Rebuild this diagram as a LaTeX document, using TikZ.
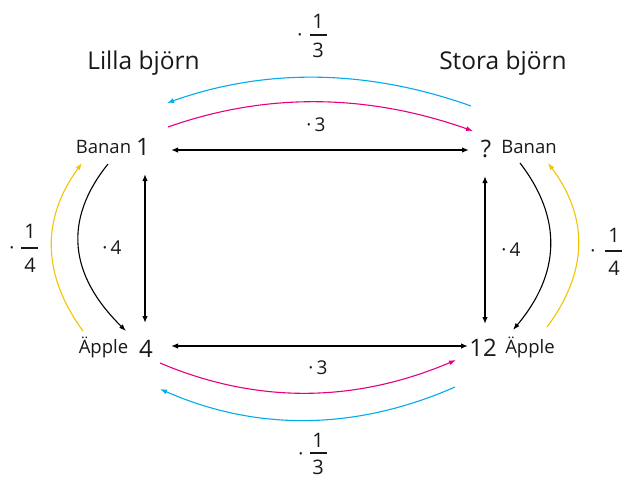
\documentclass[tikz,border=0pt]{standalone}
\usepackage{fontspec}
\setmainfont{Open Sans}
\usetikzlibrary{arrows.meta}
\definecolor{cblue}{RGB}{0,172,236}
\definecolor{cmag}{RGB}{230,0,126}
\definecolor{cyel}{RGB}{245,196,0}
\definecolor{ink}{RGB}{25,25,25}
\tikzset{
  title/.style={font=\fontsize{24.5}{28}\selectfont, text=ink},
  lbl/.style={font=\fontsize{18.5}{22}\selectfont, anchor=base, text=ink},
  num/.style={font=\fontsize{24}{28}\selectfont, anchor=base, text=ink},
  op/.style={font=\fontsize{19}{22}\selectfont, text=ink, inner sep=0pt},
  fr/.style={font=\fontsize{20}{24}\selectfont, text=ink, inner sep=0pt},
  bar/.style={line width=1.6pt, draw=ink},
  dbl/.style={{Latex[length=7pt,width=5.5pt]}-{Latex[length=7pt,width=5.5pt]}, line width=1.5pt, draw=black},
  crv/.style={-{Latex[length=7pt,width=5pt]}, line width=1.1pt},
}
\begin{document}
\begin{tikzpicture}[x=1pt,y=-1pt]
\useasboundingbox[fill=white] (0,0) rectangle (623,479);
% titles
\node[title] (tl) at (143.5,63) {Lilla björn};
\node[title] (tr) at (503,63) {Stora björn};
% main values
\node[num] (n1) at (143,155) {1};
\node[lbl] (b1) at (103.5,153) {Banan};
\node[num] (nq) at (486,157) {?};
\node[lbl] (b2) at (529,153) {Banan};
\node[num] (n4) at (146,357) {4};
\node[lbl] (a1) at (103.5,353) {Äpple};
\node[num] (n12) at (483,356) {12};
\node[lbl] (a2) at (530,353) {Äpple};
% straight double arrows
\coordinate (t1) at (171,150); \coordinate (t2) at (469,150);
\coordinate (b1s) at (171,346); \coordinate (b2s) at (468,346);
\coordinate (l1) at (145,174); \coordinate (l2) at (145,323);
\coordinate (r1) at (485,176); \coordinate (r2) at (485,324);
\draw[dbl] (t1) -- (t2);
\draw[dbl] (b1s) -- (b2s);
\draw[dbl] (l1) -- (l2);
\draw[dbl] (r1) -- (r2);
% curved arrows
\coordinate (bt1) at (471,106); \coordinate (bt2) at (167,103);
\draw[crv,cblue] (bt1) .. controls (370,70) and (268,67) .. (bt2);
\coordinate (mt1) at (168,127); \coordinate (mt2) at (473,131);
\draw[crv,cmag] (mt1) .. controls (270,91) and (371,95) .. (mt2);
\coordinate (mb1) at (160,363); \coordinate (mb2) at (456,360);
\draw[crv,cmag] (mb1) .. controls (259,405) and (357,402) .. (mb2);
\coordinate (bb1) at (455,387); \coordinate (bb2) at (160,389);
\draw[crv,cblue] (bb1) .. controls (357,430) and (258,432) .. (bb2);
\coordinate (kl1) at (108,164); \coordinate (kl2) at (126,331);
\draw[crv,black] (kl1) .. controls (63,220) and (69,275) .. (kl2);
\coordinate (yl1) at (83,331); \coordinate (yl2) at (82,163);
\draw[crv,cyel] (yl1) .. controls (42,275) and (41,219) .. (yl2);
\coordinate (kr1) at (520,163); \coordinate (kr2) at (513,330);
\draw[crv,black] (kr1) .. controls (563,219) and (560,274) .. (kr2);
\coordinate (yr1) at (547,327); \coordinate (yr2) at (548,163);
\draw[crv,cyel] (yr1) .. controls (588,272) and (589,218) .. (yr2);
% operator labels
\node[op] (m3t) at (316,125) {·\,3};
\node[op] (m3b) at (318,368) {·\,3};
\node[op] (m4l) at (112,248) {·\,4};
\node[op] (m4r) at (511,250) {·\,4};
% fractions
\node[op] (dt) at (300,35) {\vphantom{3}·};
\node[fr] (ftn) at (318,21) {1};
\node[fr] (ftd) at (318,50) {3};
\draw[bar] (310,35) -- (327,35);
\node[op] (db) at (301,454) {\vphantom{3}·};
\node[fr] (fbn) at (318,440) {1};
\node[fr] (fbd) at (318,467) {3};
\draw[bar] (310,453) -- (327,453);
\node[op] (dl) at (12,248) {\vphantom{3}·};
\node[fr] (fln) at (30,231) {1};
\node[fr] (fld) at (30,265) {4};
\draw[bar] (21,248) -- (38,248);
\node[op] (dr) at (593,251) {\vphantom{3}·};
\node[fr] (frn) at (614,235) {1};
\node[fr] (frd) at (614,268) {4};
\draw[bar] (605,251) -- (622,251);
\end{tikzpicture}
\end{document}
